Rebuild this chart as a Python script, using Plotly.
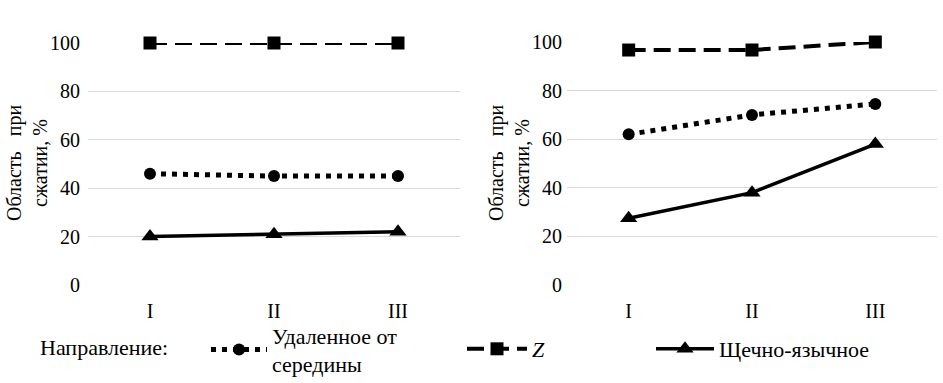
import plotly.graph_objects as go

categories = ["I", "II", "III"]
left_far = [46, 45, 45]        # Удаленное от середины
left_z = [100, 100, 100]       # Z
left_bl = [20, 21, 22]         # Щечно-язычное
right_far = [62, 70, 74.5]
right_z = [96.7, 96.7, 100]
right_bl = [27.5, 38, 58]
series_names = ["Удаленное от<br>середины", "<i>Z</i>", "Щечно-язычное"]
y_ticks = [0, 20, 40, 60, 80, 100]
y_title = "Область\u00a0\u00a0 при<br>сжатии, %"
legend_title = "Направление:"

FONT = "Liberation Serif"
W, H = 943, 383

styles = [
    dict(symbol="circle", size=12, dash="5px,6px", width=5),
    dict(symbol="square", size=13, dash="17px,8px", width=4),
    dict(symbol="triangle-up", size=15, dash="solid", width=3.5),
]

fig = go.Figure()
legends = ["legend", "legend2", "legend3"]
for side, data in (("left", [left_far, left_z, left_bl]), ("right", [right_far, right_z, right_bl])):
    xa, ya = ("x", "y") if side == "left" else ("x2", "y2")
    for i, vals in enumerate(data):
        st = styles[i]
        fig.add_trace(go.Scatter(
            x=categories, y=vals, name=series_names[i], xaxis=xa, yaxis=ya,
            mode="lines+markers", cliponaxis=False,
            line=dict(color="black", width=st["width"], dash=st["dash"]),
            marker=dict(color="black", symbol=st["symbol"], size=st["size"]),
            showlegend=(side == "left"), legend=legends[i],
        ))

def px_x(p):
    return p / W

def px_y(p):
    return 1 - p / H

tfont = dict(family=FONT, size=20, color="black")
lfont = dict(family=FONT, size=22, color="black")
axis_common = dict(
    showgrid=True, gridcolor="#d9d9d9", gridwidth=1, zeroline=False, showline=False,
    tickfont=tfont, automargin=False, ticks="outside", tickcolor="rgba(0,0,0,0)",
)
xcommon = dict(type="category", range=[-0.5, 2.5], showgrid=False, zeroline=False,
               ticks="outside", ticklen=8, tickcolor="rgba(0,0,0,0)", tickfont=tfont,
               automargin=False)
fig.update_layout(
    width=W, height=H, margin=dict(l=0, r=0, t=0, b=0, autoexpand=False),
    paper_bgcolor="white", plot_bgcolor="white",
    font=tfont,
    xaxis=dict(domain=[px_x(88), px_x(460)], **xcommon),
    xaxis2=dict(domain=[px_x(567), px_x(937)], anchor="y2", **xcommon),
    yaxis=dict(domain=[px_y(285), px_y(43)], range=[0, 100], tickvals=y_ticks,
               ticklen=3, **axis_common),
    yaxis2=dict(domain=[px_y(285), px_y(42)], range=[0, 100], tickvals=y_ticks, anchor="x2",
                ticklen=0, **axis_common),
)

leg_common = dict(orientation="h", xanchor="left", yanchor="middle", bgcolor="rgba(0,0,0,0)",
                  font=lfont)
fig.update_layout(
    legend=dict(x=px_x(206), y=px_y(350), itemwidth=56, **leg_common),
    legend2=dict(x=px_x(462), y=px_y(349), itemwidth=60, **leg_common),
    legend3=dict(x=px_x(651), y=px_y(349), itemwidth=58, **leg_common),
)

fig.add_annotation(text=legend_title, x=px_x(38), y=px_y(347), xref="paper", yref="paper",
                   xanchor="left", yanchor="middle", showarrow=False, font=lfont)
for cx in (27, 509):
    fig.add_annotation(text=y_title, x=px_x(cx), y=px_y(163), xref="paper", yref="paper",
                       xanchor="center", yanchor="middle", showarrow=False, textangle=-90,
                       font=tfont)

fig.write_html("out.html", config={"displayModeBar": False},
               post_script="document.body.style.margin='0';")
